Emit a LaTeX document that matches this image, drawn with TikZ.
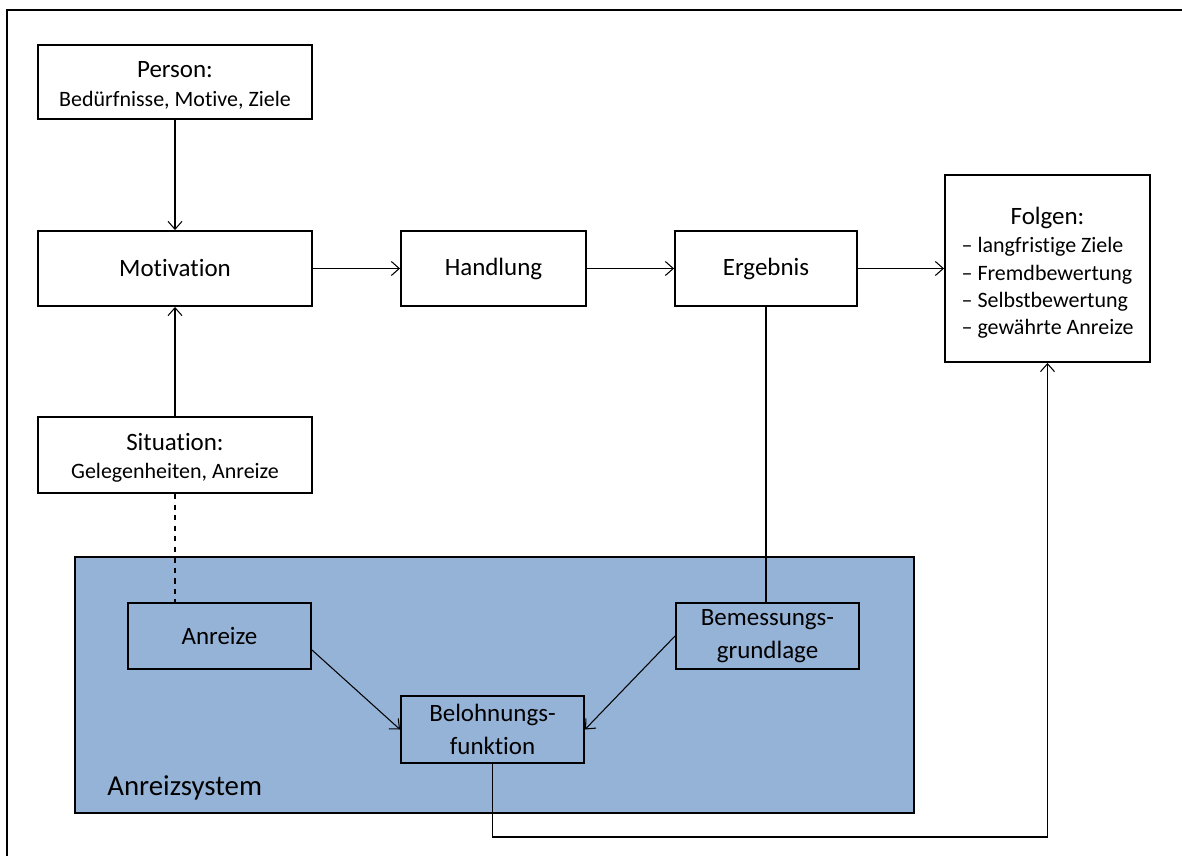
\documentclass[tikz,border=0pt]{standalone}
\usepackage{fontspec}
\setmainfont{Carlito}[Ligatures=NoCommon]
\usetikzlibrary{arrows.meta}

\newcommand{\gross}{\fontsize{14.2}{17}\selectfont}
\newcommand{\klein}{\fontsize{12.5}{15.5}\selectfont}
\newcommand{\hoch}[1]{\rule{0pt}{#1}}
\definecolor{anreizblau}{HTML}{95B3D7}

\tikzset{
  kasten/.style={draw, line width=1.1pt, fill=white, align=center, font=\gross},
  blaukasten/.style={kasten, fill=anreizblau, minimum width=3.66cm, minimum height=1.32cm},
  pfeil/.style={->, line width=0.6pt},
  >={Straight Barb[length=4.5pt,width=8pt]}
}

\begin{document}
\begin{tikzpicture}
\useasboundingbox (0,0) rectangle (23.64,-17.12);
\draw[line width=1.1pt] (23.64,-0.2) -- (0.14,-0.2) -- (0.14,-17.12);

% obere Reihe
\node[kasten, minimum width=5.48cm, minimum height=1.48cm] (person) at (3.5,-1.64)
     {\hoch{13pt}Person:\\[-1pt]{\klein Bedürfnisse, Motive, Ziele}};
\node[kasten, minimum width=5.48cm, minimum height=1.5cm] (motivation) at (3.5,-5.37) {Motivation};
\node[kasten, minimum width=3.7cm, minimum height=1.5cm] (handlung) at (9.87,-5.37) {Handlung};
\node[kasten, minimum width=3.64cm, minimum height=1.5cm] (ergebnis) at (15.32,-5.37) {Ergebnis};
\node[kasten, minimum width=4.1cm, minimum height=3.74cm] (folgen) at (20.95,-5.37)
     {\hoch{17pt}Folgen:\\[2pt]{\klein\begin{tabular}{@{}l@{}}
        -- langfristige Ziele\\
        -- Fremdbewertung\\
        -- Selbstbewertung\\
        -- gewährte Anreize\end{tabular}}};
\node[kasten, minimum width=5.48cm, minimum height=1.52cm] (situation) at (3.5,-9.1)
     {\hoch{12.5pt}Situation:\\[-1pt]{\klein Gelegenheiten, Anreize}};

% Anreizsystem
\node[draw, line width=1.1pt, fill=anreizblau, minimum width=16.78cm, minimum height=5.12cm] (system) at (9.89,-13.7) {};
\node[anchor=west, inner sep=0pt, font=\fontsize{16.4}{19}\selectfont] (systemlabel) at (2.14,-15.76) {Anreizsystem};
\node[blaukasten] (anreize) at (4.39,-12.72) {Anreize};
\node[blaukasten] (bemessung) at (15.35,-12.72) {Bemessungs-\\[2pt]grundlage};
\node[blaukasten, minimum height=1.34cm] (belohnung) at (9.85,-14.59) {Belohnungs-\\[2pt]funktion};
\coordinate (rueck) at (20.95,-16.74);

% Verbindungen
\draw[pfeil] (person) -- (motivation);
\draw[pfeil] (situation) -- (motivation);
\draw[pfeil] (motivation) -- (handlung);
\draw[pfeil] (handlung) -- (ergebnis);
\draw[pfeil] (ergebnis) -- (folgen);
\draw[line width=0.6pt, dashed] (situation.south) -- (situation.south |- anreize.north);
\draw[line width=0.6pt] (ergebnis.south) -- (ergebnis.south |- bemessung.north);
\draw[pfeil] ([yshift=-0.28cm]anreize.east) -- (belohnung.west);
\draw[pfeil] (bemessung.west) -- (belohnung.east);
\draw[pfeil] (belohnung.south) |- (rueck) -- (folgen.south);
\end{tikzpicture}
\end{document}
